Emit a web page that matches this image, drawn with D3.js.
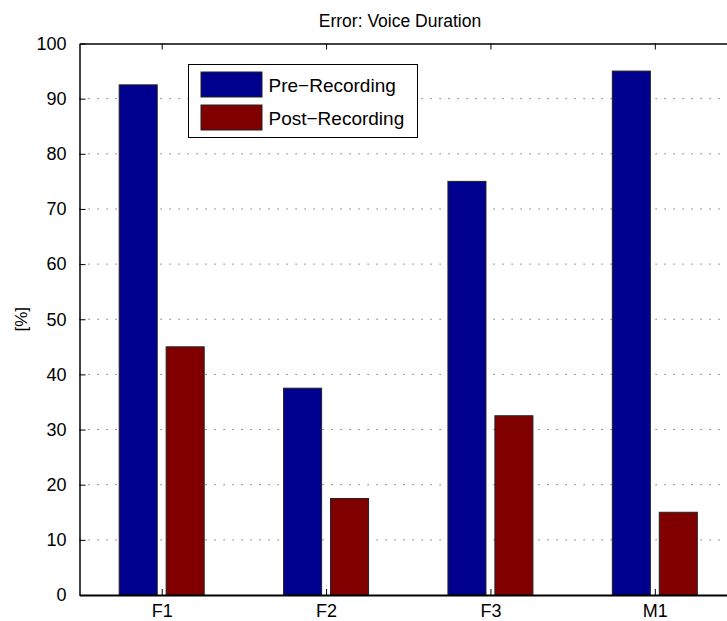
<!DOCTYPE html>
<html>
<head>
<meta charset="utf-8">
<script src="https://cdn.jsdelivr.net/npm/d3@7"></script>
<style>
  body { margin: 0; background: #fff; }
  svg { display: block; overflow: hidden; }
  text { font-family: "Liberation Sans", Arial, sans-serif; fill: #000; }
</style>
</head>
<body>
<div id="chart"></div>
<script>
// data
const categories = ["F1", "F2", "F3", "M1"];
const seriesNames = ["Pre\u2212Recording", "Post\u2212Recording"];
const preRecording = [92.5, 37.5, 75, 95];
const postRecording = [45, 17.5, 32.5, 15];
const yTicks = [0, 10, 20, 30, 40, 50, 60, 70, 80, 90, 100];
const colors = ["#00008f", "#800000"];
const chartTitle = "Error: Voice Duration";
const yLabel = "[%]";

const width = 727, height = 621;
const margin = { top: 43.5, left: 79.5, bottom: 26, right: -10 };

const svg = d3.select("#chart")
    .append("svg")
    .attr("width", width)
    .attr("height", height);

const plotW = width - margin.left - margin.right;
const plotH = height - margin.top - margin.bottom;

const g = svg.append("g")
    .attr("transform", `translate(${margin.left}, ${margin.top})`);

// scales
const x0 = d3.scalePoint()
    .domain(categories)
    .range([0, plotW])
    .padding(0.5);

const x1 = d3.scaleBand()
    .domain(seriesNames)
    .range([-42.5, 42.5])
    .paddingInner(0.19);

const y = d3.scaleLinear()
    .domain([0, 100])
    .range([plotH, 0]);

// dotted grid
g.append("g")
    .selectAll("line")
    .data(yTicks.filter(t => t > 0 && t < 100))
    .join("line")
    .attr("x1", 0)
    .attr("x2", plotW)
    .attr("y1", d => y(d))
    .attr("y2", d => y(d))
    .attr("stroke", "#555")
    .attr("stroke-width", 1)
    .attr("stroke-dasharray", "1.2,7.8");

// bars
const rows = categories.map((c, i) => ({ cat: c, values: [preRecording[i], postRecording[i]] }));

const groups = g.selectAll(".grp")
    .data(rows)
    .join("g")
    .attr("class", "grp")
    .attr("transform", d => `translate(${x0(d.cat)}, 0)`);

groups.selectAll("rect")
    .data(d => d.values.map((v, j) => ({ s: seriesNames[j], v: v, j: j })))
    .join("rect")
    .attr("x", d => x1(d.s))
    .attr("width", x1.bandwidth())
    .attr("y", d => y(d.v))
    .attr("height", d => y(0) - y(d.v))
    .attr("fill", d => colors[d.j])
    .attr("stroke", "#222")
    .attr("stroke-width", 1);

// axes (MATLAB-style inward ticks, box on)
const yAxis = d3.axisLeft(y).tickValues(yTicks).tickSizeInner(-6).tickSizeOuter(0).tickPadding(13);
const yAx = g.append("g").call(yAxis);
yAx.select(".domain").attr("stroke-width", 1.5);
yAx.selectAll("text").attr("font-size", "18px");

const xAxis = d3.axisBottom(x0).tickSizeInner(-6).tickSizeOuter(0).tickPadding(9);
const xAx = g.append("g")
    .attr("transform", `translate(0, ${plotH})`)
    .call(xAxis);
xAx.select(".domain").attr("stroke-width", 2);
xAx.selectAll("text").attr("font-size", "18px");

const xTop = g.append("g").call(d3.axisTop(x0).tickSizeInner(-6).tickSizeOuter(0).tickFormat(""));
xTop.select(".domain").attr("stroke-width", 1.5);

// legend
const legend = g.append("g")
    .attr("transform", `translate(${188.5 - margin.left}, ${64.5 - margin.top})`);

legend.append("rect")
    .attr("width", 229)
    .attr("height", 73)
    .attr("fill", "#fff")
    .attr("stroke", "#000")
    .attr("stroke-width", 1);

seriesNames.forEach((name, i) => {
    const item = legend.append("g")
        .attr("transform", `translate(0, ${i * 33})`);
    item.append("rect")
        .attr("x", 12.5)
        .attr("y", 7.5)
        .attr("width", 61)
        .attr("height", 25)
        .attr("fill", colors[i])
        .attr("stroke", "#222");
    item.append("text")
        .attr("x", 80)
        .attr("y", 27)
        .attr("font-size", "19px")
        .text(name);
});

// title
svg.append("text")
    .attr("x", 400)
    .attr("y", 27)
    .attr("text-anchor", "middle")
    .attr("font-size", "17.5px")
    .text(chartTitle);

// y label
svg.append("text")
    .attr("transform", `translate(27, ${margin.top + plotH / 2}) rotate(-90)`)
    .attr("text-anchor", "middle")
    .attr("font-size", "17px")
    .text(yLabel);
</script>
</body>
</html>
